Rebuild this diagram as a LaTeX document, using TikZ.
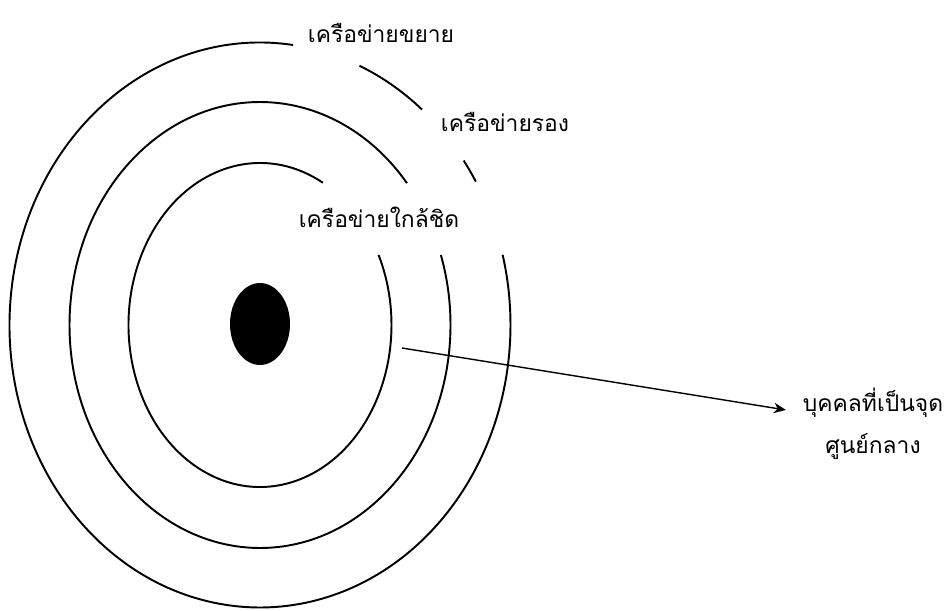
\documentclass[tikz,border=0pt]{standalone}
\usepackage{fontspec}
\newfontfamily\thaifont[Script=Thai]{Loma}
\usetikzlibrary{shapes.geometric, arrows.meta, positioning}

\begin{document}
\begin{tikzpicture}[
    x=0.02cm, y=0.02cm,
    ring/.style={draw, line width=1.1pt},
    ringlabel/.style={font=\thaifont\fontsize{13}{24}\selectfont, inner sep=1pt},
    core/.style={ellipse, fill=black, minimum width=1.2cm, minimum height=1.64cm, inner sep=0pt},
    arrow/.style={draw, line width=0.8pt, -{Stealth[length=7pt, width=6pt]}, shorten >=0.3cm}
]
\useasboundingbox (0,0) rectangle (950,610);

\coordinate (c) at (260,285);
\node[core] (person) at (260,286) {};

\draw[ring] (c) ++(82.4:250.5 and 282.5) arc[start angle=82.4, end angle=374.4, x radius=250.5, y radius=282.5];
\draw[ring] (c) ++(49.7:250.5 and 282.5) arc[start angle=49.7, end angle=66.6, x radius=250.5, y radius=282.5];
\draw[ring] (c) ++(30.5:250.5 and 282.5) arc[start angle=30.5, end angle=35.6, x radius=250.5, y radius=282.5];
\draw[ring] (c) ++(39.5:190.5 and 223) arc[start angle=39.5, end angle=378.3, x radius=190.5, y radius=223];
\draw[ring] (c) ++(61.4:131.5 and 162) arc[start angle=61.4, end angle=385.6, x radius=131.5, y radius=162];

\node[ringlabel] (wide) at (381,577) {เครือข่ายขยาย};
\node[ringlabel] (second) at (505,488) {เครือข่ายรอง};
\node[ringlabel] (close) at (379,393) {เครือข่ายใกล้ชิด};
\node[ringlabel, align=center] (centre) at (873,186) {บุคคลที่เป็นจุด\\ศูนย์กลาง};

\coordinate (start) at (402,262);
\draw[arrow] (start) -- (centre);

\end{tikzpicture}
\end{document}
